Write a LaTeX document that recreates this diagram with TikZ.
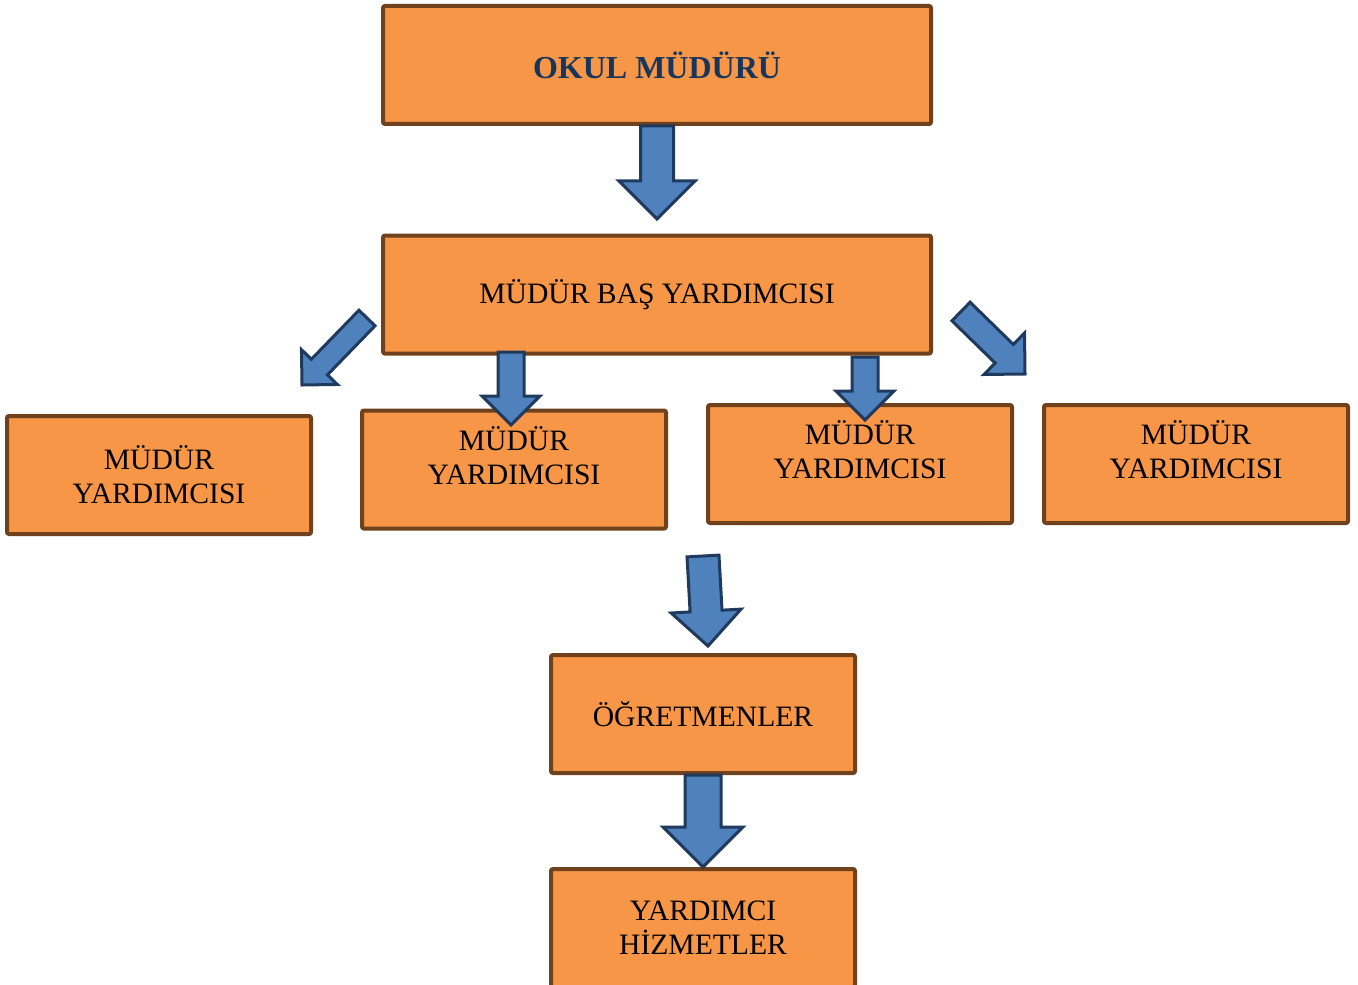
\documentclass[tikz,border=0pt]{standalone}
\usepackage{fontspec}
\setmainfont{Liberation Serif}
\usetikzlibrary{calc}
\definecolor{boxfill}{HTML}{F79646}
\definecolor{boxline}{HTML}{6F411C}
\definecolor{arrowfill}{HTML}{4F81BD}
\definecolor{arrowline}{HTML}{1F3A5C}
\definecolor{titletext}{HTML}{17365D}
% block arrow: name, tail, tip, half shaft, half head
\newcommand\bigarrow[5]{%
  \coordinate (#1h) at ($(#3)!#5!(#2)$);
  \draw[blockarrow] ($(#2)!#4!90:(#3)$) -- ($(#1h)!#4!90:(#3)$) -- ($(#1h)!#5!90:(#3)$) -- (#3)
    -- ($(#1h)!#5!-90:(#3)$) -- ($(#1h)!#4!-90:(#3)$) -- ($(#2)!#4!-90:(#3)$) -- cycle;
}
\begin{document}
\begin{tikzpicture}[x=0.5pt,y=-0.5pt,
  bigbox/.style={draw=boxline, fill=boxfill, line width=2pt, rounded corners=1pt,
    minimum width=274pt, minimum height=59pt, inner sep=0pt, align=center,
    font=\fontsize{14.8}{17}\selectfont},
  smallbox/.style={bigbox, minimum width=152pt},
  boxtext/.style={inner sep=0pt, align=center, font=\fontsize{14.8}{17}\selectfont},
  blockarrow/.style={draw=arrowline, fill=arrowfill, line width=1.5pt}]
\clip (0,0) rectangle (1358,984);

% boxes
\node[bigbox, font=\bfseries\fontsize{16}{19}\selectfont, text=titletext] (okul) at (657,65) {OKUL MÜDÜRÜ};
\node[bigbox] (mby) at (657,294.5) {MÜDÜR BAŞ YARDIMCISI};
\node[smallbox] (my1) at (159,475) {MÜDÜR\\YARDIMCISI};
\node[smallbox] (my2) at (514,469.5) {};
\node[boxtext] (my2t) at (514,456) {MÜDÜR\\YARDIMCISI};
\node[smallbox] (my3) at (860,464) {};
\node[boxtext] (my3t) at (860,450) {MÜDÜR\\YARDIMCISI};
\node[smallbox] (my4) at (1196,464) {};
\node[boxtext] (my4t) at (1196,450) {MÜDÜR\\YARDIMCISI};
\node[smallbox] (ogr) at (703,714) {ÖĞRETMENLER};
\node[smallbox] (yh) at (703,928) {YARDIMCI\\HİZMETLER};

% arrows
\coordinate (a1e) at (657,219);
\coordinate (a2s) at (367,318);
\coordinate (a2e) at (302,385);
\coordinate (a3s) at (511,352);
\coordinate (a3e) at (511,425);
\coordinate (a4s) at (865,357);
\coordinate (a4e) at (865,420);
\coordinate (a5s) at (961,311.5);
\coordinate (a5e) at (1025,374);
\coordinate (a6s) at (703,556);
\coordinate (a6e) at (708,646);
\coordinate (a7e) at (703,867);

\bigarrow{a1}{okul.south}{a1e}{8.25pt}{19pt}
\bigarrow{a2}{a2s}{a2e}{5.6pt}{12.5pt}
\bigarrow{a3}{a3s}{a3e}{6.5pt}{14.5pt}
\bigarrow{a4}{a4s}{a4e}{6.5pt}{14.5pt}
\bigarrow{a5}{a5s}{a5e}{6.5pt}{14.5pt}
\bigarrow{a6}{a6s}{a6e}{8pt}{17.5pt}
\bigarrow{a7}{ogr.south}{a7e}{9pt}{20pt}
\end{tikzpicture}
\end{document}
